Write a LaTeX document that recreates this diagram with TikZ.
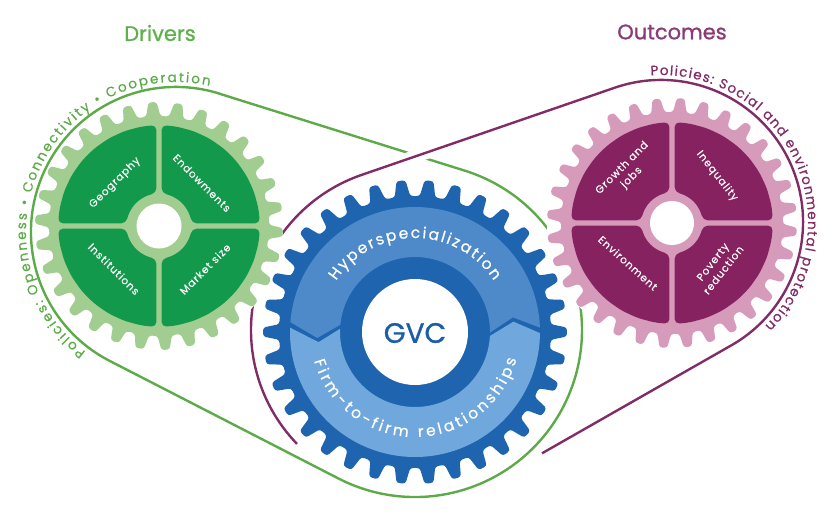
\documentclass[tikz,border=0pt]{standalone}
\usepackage{fontspec}
\setmainfont{Poppins}
\newfontfamily\popmed[FakeBold=1.0]{Poppins}
\newfontfamily\popsemi[FakeBold=0.5]{Poppins}
\newfontfamily\popsp[LetterSpace=9,FakeBold=0.3]{Poppins}
\usetikzlibrary{decorations.text}
\definecolor{gdark}{HTML}{13994B}
\definecolor{glight}{HTML}{A1CD90}
\definecolor{gline}{HTML}{5DAB48}
\definecolor{gtitle}{HTML}{5DB14A}
\definecolor{bdark}{HTML}{1E64AF}
\definecolor{bmid}{HTML}{4E8ACA}
\definecolor{blight}{HTML}{70A8DD}
\definecolor{gvcblue}{HTML}{1B5DA6}
\definecolor{pdark}{HTML}{85225F}
\definecolor{plight}{HTML}{D69BBB}
\definecolor{pline}{HTML}{812C66}
\definecolor{ptitle}{HTML}{8A3A74}
\newcommand{\myqfont}{\popsp\fontsize{10.5}{13.5}\selectfont}
\newcommand{\mybelt}{\popsemi\fontsize{13.5}{15}\selectfont}
\newcommand{\mybeltb}{\popmed\fontsize{13.5}{15}\selectfont}
\newcommand{\myband}{\popsemi\fontsize{15.5}{17}\selectfont}
\newcommand{\mytitle}{\popmed\fontsize{21}{24}\selectfont}
\newcommand{\mygvc}{\popmed\fontsize{28}{30}\selectfont}
% cx, cy, N, Ri, Ro, color, offset
\newcommand{\drawgear}[7]{%
  \begin{scope}[shift={(#1,#2)}]
    \pgfmathsetmacro{\gp}{360/#3}
    \fill[#6, rounded corners=2.8pt] ({#7-0.5*\gp}:#4)
      \foreach \k in {1,...,#3}{
        -- ({#7+(\k-1)*\gp-0.31*\gp}:#4)
        -- ({#7+(\k-1)*\gp-0.16*\gp}:#5)
        -- ({#7+(\k-1)*\gp+0.16*\gp}:#5)
        -- ({#7+(\k-1)*\gp+0.31*\gp}:#4)
      } -- cycle;
  \end{scope}}
% cx, cy, R, rr, color
\newcommand{\drawquads}[5]{%
  \begin{scope}[shift={(#1,#2)}]
    \pgfmathsetmacro{\da}{asin(2.6/#3)}
    \pgfmathsetmacro{\db}{asin(2.6/#4)}
    \foreach \b in {0,90,180,270}{
      \fill[#5, rounded corners=5pt] ({\b+\da}:#3)
        \foreach \t in {10,20,...,80}{ -- ({\b+\t}:#3) }
        -- ({\b+90-\da}:#3) -- ({\b+90-\db}:#4) -- ({\b+67}:#4)
        -- ({\b+45}:#4) -- ({\b+23}:#4) -- ({\b+\db}:#4) -- cycle;
    }
  \end{scope}}
\tikzset{
  belt/.style={line width=2.4pt, line join=round},
  qlab/.style={text=white, font=\myqfont, inner sep=0pt, align=center},
}
\begin{document}
\begin{tikzpicture}[x=1pt,y=-1pt]
\useasboundingbox (0,0) rectangle (837,519);

% ---------- belts ----------
\draw[belt, gline] (219.4,93.7) -- (464.9,170.7)
  arc[start angle=-72.6, end angle=117.2, radius=167]
  -- (109.7,360.9) arc[start angle=117.2, end angle=287.4, radius=145] -- cycle;
\draw[white, line width=13pt] (385,166.8) -- (455,142.7);
\draw[belt, pline] (297,443.9) arc[start angle=136, end angle=251, radius=164]
  -- (614.8,87.7) arc[start angle=251, end angle=420.3, radius=142]
  -- (542,453.3);

% ---------- gear white disks ----------
\fill[white] (159,226) circle (124);
\fill[white] (415,332) circle (152);
\fill[white] (672,223) circle (125);

% ---------- gears ----------
\drawgear{159}{226}{30}{110}{124}{glight}{3}
\drawgear{415}{332}{34}{136}{152}{bdark}{0}
\drawgear{672}{223}{32}{111}{125}{plight}{4}

% green gear body
\drawquads{159}{226}{101}{33}{gdark}
\fill[white] (159,226) circle (22.5);
% pink gear body
\drawquads{672}{223}{101}{31}{pdark}
\fill[white] (672,223) circle (22);

% blue gear bands
\begin{scope}[shift={(415,332)}]
  \fill[bmid] (184.5:125) arc[start angle=184.5, end angle=358, radius=125]
    -- (351.5:99) -- (360.5:75) arc[start angle=360.5, end angle=185.5, radius=75]
    -- (176.5:98) -- cycle;
  \fill[blight] (182:125) arc[start angle=182, end angle=0.5, radius=125]
    -- (-6:99) -- (3:75) arc[start angle=3, end angle=182.5, radius=75]
    -- (174:97) -- cycle;
  \fill[white] (0,0) circle (53);
\end{scope}
\node[font=\mygvc, text=gvcblue, inner sep=0pt] (gvc) at (415,333) {GVC};

\path[decorate, decoration={text along path, text align=fit to path,
  text={|\myband\color{white}|Hyperspecialization}}]
  (415,332) ++(213:94) arc[start angle=213, end angle=327, radius=94];
\path[decorate, decoration={text along path, text align=fit to path,
  text={|\myband\color{white}|Firm-to-firm relationships}}]
  (415,332) ++(164:105) arc[start angle=164, end angle=15, radius=105];

% quadrant labels
\node[qlab, rotate=45] (geo) at (115,183) {Geography};
\node[qlab, rotate=-45] (endow) at (202,183) {Endowments};
\node[qlab, rotate=-45] (inst) at (114,269) {Institutions};
\node[qlab, rotate=45] (market) at (205,269) {Market size};

\node[qlab, rotate=45] (growth) at (627,173) {Growth and\\jobs};
\node[qlab, rotate=-52] (ineq) at (717,176) {Inequality};
\node[qlab, rotate=-42] (env) at (628,263) {Environment};
\node[qlab, rotate=52] (pov) at (718,266) {Poverty\\reduction};

% belt texts
\path[decorate, decoration={text along path, text align=fit to path,
  text={|\mybelt\color{gline}|Policies: Openness • Connectivity • Cooperation}}]
  (176,232) ++(127:150) arc[start angle=127, end angle=283, radius=150];
\path[decorate, decoration={text along path, text align=fit to path,
  text={|\mybeltb\color{pline}|Policies:|\mybelt\color{pline}| Social and environmental protection}}]
  (661,222) ++(266:147) arc[start angle=266, end angle=405, radius=147];

% titles
\node[font=\mytitle, text=gtitle] (drivers) at (160,33) {Drivers};
\node[font=\mytitle, text=ptitle] (outcomes) at (672,32) {Outcomes};
\end{tikzpicture}
\end{document}
